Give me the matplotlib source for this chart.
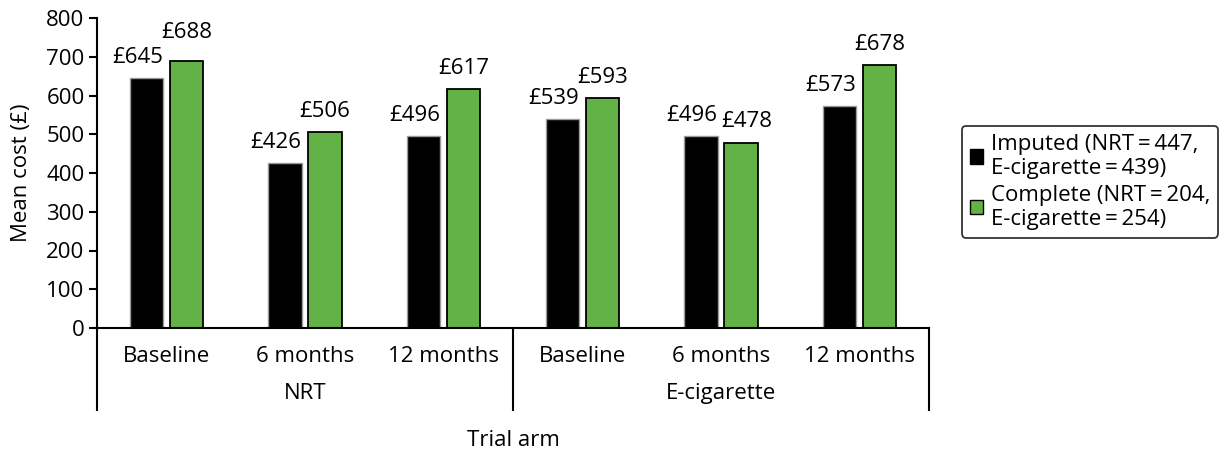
import matplotlib
matplotlib.use("Agg")
from matplotlib import pyplot as plt
from matplotlib.patches import Patch
import numpy as np

plt.rcParams['font.family'] = ['Open Sans', 'DejaVu Sans']
plt.rcParams['font.size'] = 16

TIMEPOINTS = ["Baseline", "6 months", "12 months", "Baseline", "6 months", "12 months"]
ARMS = ["NRT", "E-cigarette"]
IMPUTED = [645, 426, 496, 539, 496, 573]
COMPLETE = [688, 506, 617, 593, 478, 678]
IMPUTED_LABEL = "Imputed (NRT\u2009=\u2009447,\nE-cigarette\u2009=\u2009439)"
COMPLETE_LABEL = "Complete (NRT\u2009=\u2009204,\nE-cigarette\u2009=\u2009254)"
YTICKS = list(range(0, 801, 100))

GREEN = "#63b246"
BAR_W = 0.24
OFF = 0.145

fig = plt.figure(figsize=(12.27, 4.53), dpi=100)
W, H = 1227, 453
ax = fig.add_axes([97 / W, 1 - 328 / H, (929 - 97) / W, (328 - 18) / H])

x = np.arange(len(TIMEPOINTS))
ax.bar(x - OFF, IMPUTED, BAR_W, color="black", edgecolor="#9a9a9a", linewidth=1.0, zorder=2)
ax.bar(x + OFF, COMPLETE, BAR_W, color=GREEN, edgecolor="black", linewidth=1.3, zorder=2)

# value labels: black ones right-aligned to bar edge, green ones centred
for i in range(len(x)):
    ax.annotate("£{0}".format(IMPUTED[i]), xy=(x[i] - OFF + BAR_W / 2, IMPUTED[i]),
                xytext=(0, 11), textcoords="offset points", ha="right", va="baseline")
    lift = 17 if i == 0 else 11
    shift = 4 if COMPLETE[i] < IMPUTED[i] else 0
    ax.annotate("£{0}".format(COMPLETE[i]), xy=(x[i] + OFF, COMPLETE[i]),
                xytext=(shift, lift), textcoords="offset points", ha="center", va="baseline")

ax.set_xlim(-0.5, len(x) - 0.5)
ax.set_ylim(0, 800)
ax.set_yticks(YTICKS)
ax.set_xticks([])
ax.tick_params(axis="y", length=6, width=1.5, pad=3)
for s in ["top", "right"]:
    ax.spines[s].set_visible(False)
ax.spines["left"].set_linewidth(1.5)
ax.spines["bottom"].set_linewidth(1.5)

# two-level category axis
trans = ax.get_xaxis_transform()
for i, name in enumerate(TIMEPOINTS):
    ax.text(i, -0.093, name, transform=trans, ha="center", va="center")
for j, arm in enumerate(ARMS):
    ax.text(j * 3 + 1, -0.21, arm, transform=trans, ha="center", va="center")
for xs in [-0.5, 2.5, 5.5]:
    ax.plot([xs, xs], [0, -0.265], transform=trans, color="black", lw=1.5, clip_on=False)

fig.text(22 / W, 1 - 173 / H, "Mean cost (£)", rotation=90, ha="center", va="center")
fig.text(513 / W, 1 - 440 / H, "Trial arm", ha="center", va="center")

handles = [Patch(facecolor="black", edgecolor="black"),
           Patch(facecolor=GREEN, edgecolor="black")]
leg = fig.legend(handles, [IMPUTED_LABEL, COMPLETE_LABEL], loc="upper left",
                 bbox_to_anchor=(962 / W, 1 - 126 / H), bbox_transform=fig.transFigure,
                 frameon=True, fancybox=True, handlelength=0.6, handleheight=0.6,
                 handletextpad=0.35, borderpad=0.35, labelspacing=0.25, borderaxespad=0)
leg.get_frame().set_edgecolor("black")
leg.get_frame().set_linewidth(1.3)

fig.savefig("out.png", dpi=100)
